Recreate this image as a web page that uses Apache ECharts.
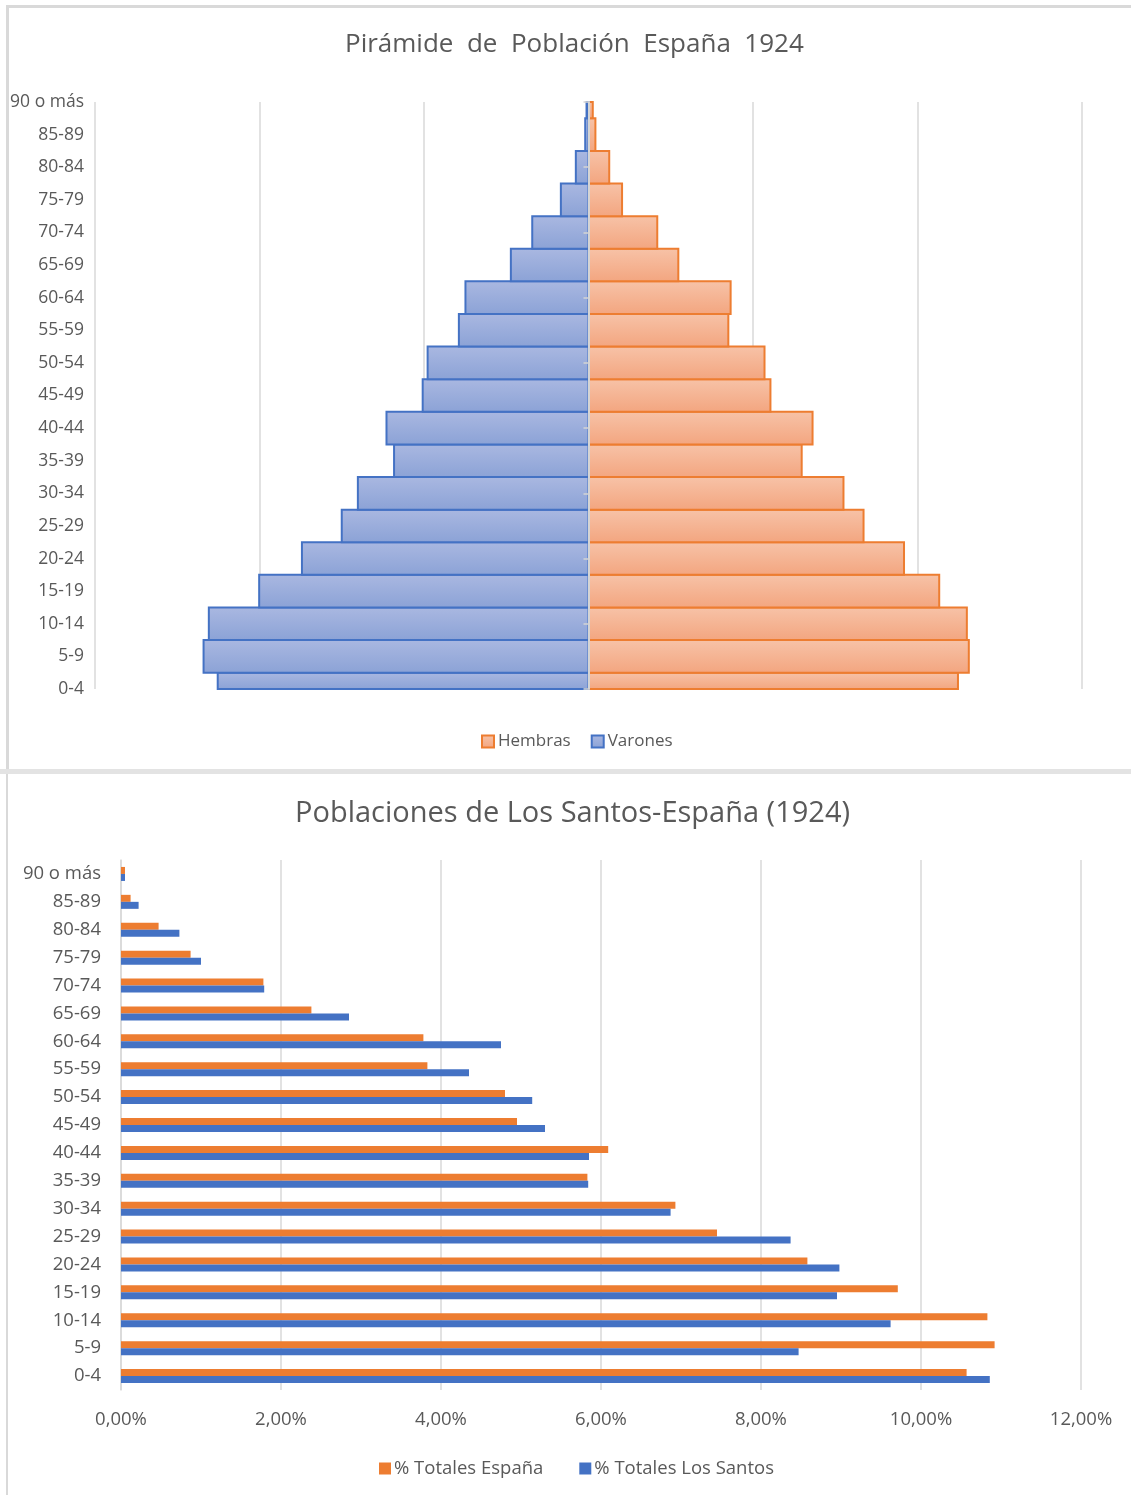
<!DOCTYPE html>
<html>
<head>
<meta charset="utf-8">
<script src="https://cdn.jsdelivr.net/npm/echarts@6/dist/echarts.min.js"></script>
<style>
  html, body { margin: 0; padding: 0; background: #fff; }
  #chart { width: 1131px; height: 1495px; }
</style>
</head>
<body>
<div id="chart"></div>
<script>
// grupos de edad, de abajo arriba
var edades = ['0-4', '5-9', '10-14', '15-19', '20-24', '25-29', '30-34', '35-39', '40-44',
  '45-49', '50-54', '55-59', '60-64', '65-69', '70-74', '75-79', '80-84', '85-89', '90 o más'];

// piramide España 1924 (habitantes)
var varones = [1127000, 1170000, 1154000, 1001000, 871000, 750000, 701000, 591000, 614000,
  504000, 489000, 394000, 374000, 236000, 171000, 84000, 38500, 10000, 6000];
var hembras = [1123000, 1156000, 1150000, 1066000, 959000, 836000, 775000, 648000, 681000,
  553000, 535000, 425000, 432000, 273000, 209000, 102000, 63000, 21000, 13000];

// % del total por grupo
var totalEspana = [10.57, 10.92, 10.83, 9.71, 8.58, 7.45, 6.93, 5.83, 6.09,
  4.95, 4.80, 3.83, 3.78, 2.38, 1.78, 0.87, 0.47, 0.12, 0.05];
var totalSantos = [10.86, 8.47, 9.62, 8.95, 8.98, 8.37, 6.87, 5.84, 5.85,
  5.30, 5.14, 4.35, 4.75, 2.85, 1.79, 1.00, 0.73, 0.22, 0.05];

var FONT = 'Open Sans';
var GREY = '#595959';
var GRID = '#d9d9d9';

function grad(top, bottom) {
  return new echarts.graphic.LinearGradient(0, 0, 0, 1, [
    { offset: 0, color: top }, { offset: 1, color: bottom }
  ]);
}

// barras de la piramide recortadas al area del grid (como en Excel)
function pyramidBar(params, api) {
  var cat = api.value(1);
  var a = api.coord([0, cat]);
  var b = api.coord([api.value(0), cat]);
  var h = api.size([0, 1])[1];
  var cs = params.coordSys;
  var shape = echarts.graphic.clipRectByRect(
    { x: Math.min(a[0], b[0]), y: a[1] - h / 2, width: Math.abs(b[0] - a[0]), height: h },
    { x: cs.x, y: cs.y, width: cs.width, height: cs.height }
  );
  if (!shape) return;
  var st = api.style();
  return {
    type: 'rect', shape: shape,
    style: { fill: st.fill, stroke: st.stroke, lineWidth: 2 }
  };
}

function toPairs(arr, sign) {
  return arr.map(function (v, i) { return [sign * v, i]; });
}

var myChart = echarts.init(document.getElementById('chart'));
var option = {
  animation: false,
  textStyle: { fontFamily: FONT, color: GREY },
  title: [
    {
      text: 'Pirámide  de  Población  España  1924',
      left: 340, top: 27,
      textStyle: { fontSize: 26, fontWeight: 'normal', color: GREY, fontFamily: FONT }
    },
    {
      text: 'Poblaciones de Los Santos-España (1924)',
      left: 290, top: 794,
      textStyle: { fontSize: 29, fontWeight: 'normal', color: GREY, fontFamily: FONT }
    }
  ],
  legend: [
    {
      data: ['Hembras', 'Varones'],
      top: 728, left: 476,
      icon: 'rect', itemWidth: 12, itemHeight: 12, itemGap: 20,
      textStyle: { fontSize: 17, color: GREY, padding: [0, 0, 0, -1] }
    },
    {
      data: ['% Totales España', '% Totales Los Santos'],
      top: 1454, left: 374,
      icon: 'rect', itemWidth: 12, itemHeight: 12, itemGap: 36,
      textStyle: { fontSize: 18.5, color: GREY, padding: [0, 0, 0, -2] }
    }
  ],
  grid: [
    { left: 95, right: 49, top: 102, bottom: 806 },
    { left: 121, right: 50, top: 860, bottom: 105 }
  ],
  xAxis: [
    {
      gridIndex: 0, type: 'value', min: -1500000, max: 1500000, interval: 500000,
      axisLine: { show: false }, axisTick: { show: false }, axisLabel: { show: false },
      splitLine: { lineStyle: { color: GRID, width: 1.5 } }
    },
    {
      gridIndex: 1, type: 'value', min: 0, max: 12, interval: 2,
      axisLine: { show: false }, axisTick: { show: false },
      axisLabel: {
        fontSize: 18.5, color: GREY, margin: 20,
        formatter: function (v) { return v.toFixed(2).replace('.', ',') + '%'; }
      },
      splitLine: { lineStyle: { color: GRID, width: 1.5 } }
    }
  ],
  yAxis: [
    {
      gridIndex: 0, type: 'category', data: edades, boundaryGap: false,
      axisLine: { show: false, onZero: false }, axisTick: { show: false },
      axisLabel: { fontSize: 17.5, color: GREY, margin: 11 }
    },
    {
      gridIndex: 0, type: 'category', data: edades, boundaryGap: false, position: 'left', z: 5,
      axisLine: { show: true, onZero: true, lineStyle: { color: '#d4d4d4', width: 2 } },
      axisTick: { show: true, interval: 1, length: 5, lineStyle: { color: '#d4d4d4', width: 1.5 } },
      axisLabel: { show: false }
    },
    {
      gridIndex: 1, type: 'category', data: edades,
      axisLine: { show: true, lineStyle: { color: GRID, width: 1.5 } }, axisTick: { show: false },
      axisLabel: { fontSize: 18.5, color: GREY, margin: 20 }
    }
  ],
  series: [
    {
      name: 'Hembras', type: 'custom', xAxisIndex: 0, yAxisIndex: 0,
      data: toPairs(hembras, 1), encode: { x: 0, y: 1 }, renderItem: pyramidBar,
      itemStyle: { color: grad('#f7c3a8', '#f3a57f'), borderColor: '#ed7d31', borderWidth: 2 }
    },
    {
      name: 'Varones', type: 'custom', xAxisIndex: 0, yAxisIndex: 0,
      data: toPairs(varones, -1), encode: { x: 0, y: 1 }, renderItem: pyramidBar,
      itemStyle: { color: grad('#aab8e1', '#8ba2d6'), borderColor: '#4472c4', borderWidth: 2 }
    },
    {
      name: '% Totales España', type: 'bar', xAxisIndex: 1, yAxisIndex: 2,
      data: totalEspana, barWidth: 7, barGap: 0,
      itemStyle: { color: '#ed7d31' }
    },
    {
      name: '% Totales Los Santos', type: 'bar', xAxisIndex: 1, yAxisIndex: 2,
      data: totalSantos, barWidth: 7, barGap: 0,
      itemStyle: { color: '#4472c4' }
    }
  ],
  graphic: [
    { type: 'rect', shape: { x: 6, y: 5, width: 1125, height: 3 }, style: { fill: '#d9d9d9' } },
    { type: 'rect', shape: { x: 6, y: 5, width: 3, height: 765 }, style: { fill: '#d9d9d9' } },
    { type: 'rect', shape: { x: 0, y: 769, width: 1131, height: 5 }, style: { fill: '#e3e3e3' } },
    { type: 'rect', shape: { x: 6, y: 774, width: 2, height: 721 }, style: { fill: '#d9d9d9' } }
  ]
};
myChart.setOption(option);
</script>
</body>
</html>
